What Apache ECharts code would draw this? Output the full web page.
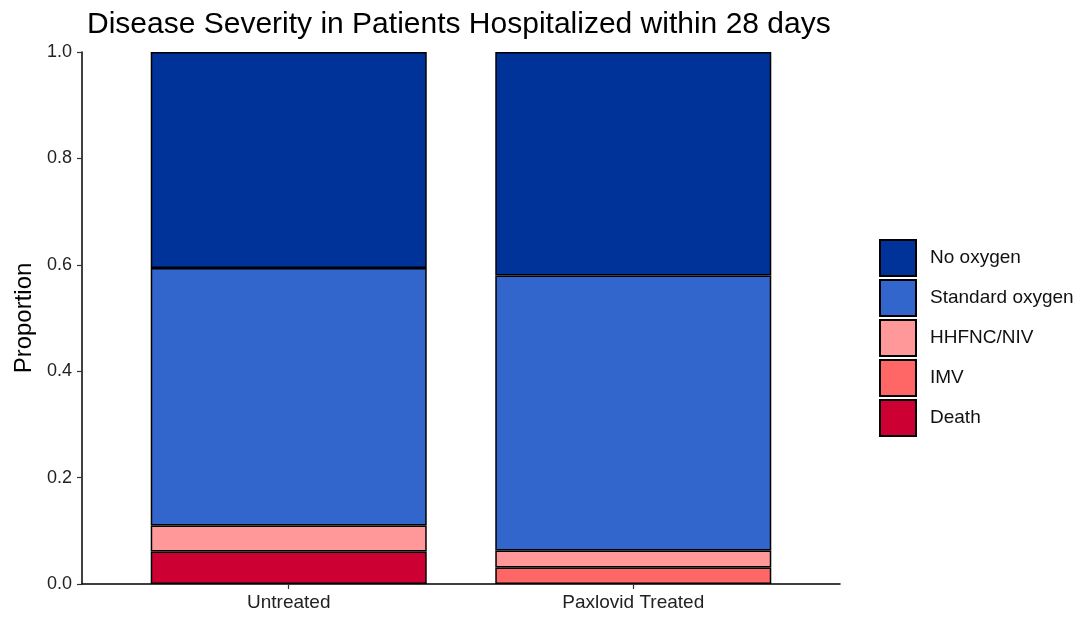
<!DOCTYPE html>
<html>
<head>
<meta charset="utf-8">
<script src="https://cdn.jsdelivr.net/npm/echarts@6/dist/echarts.min.js"></script>
<style>html,body{margin:0;padding:0;background:#fff;}#c{width:1083px;height:618px;}</style>
</head>
<body>
<div id="c"></div>
<script>
const categories = ['Untreated', 'Paxlovid Treated'];
const death = [0.061, 0.0];
const imv = [0.0, 0.031];
const hhfnc = [0.049, 0.032];
const standardOxygen = [0.484, 0.517];
const noOxygen = [0.406, 0.42];
const yTicks = [0, 0.2, 0.4, 0.6, 0.8, 1.0];

// ggplot-style discrete axis expansion: 12 slots, categories at slot 3 and 8
const slotCount = 12;
const categorySlots = [3, 8];
const axisCats = [];
for (let i = 0; i < slotCount; i++) {
  const k = categorySlots.indexOf(i);
  axisCats.push(k >= 0 ? categories[k] : '_pad' + i);
}
function pad(arr) {
  const out = new Array(slotCount).fill('-');
  categorySlots.forEach((s, k) => { out[s] = arr[k] === 0 ? '-' : arr[k]; });
  return out;
}
const isCat = v => categories.indexOf(v) >= 0;

const seriesDefs = [
  {name: 'Death', data: death, color: '#CC0033'},
  {name: 'IMV', data: imv, color: '#FF6666'},
  {name: 'HHFNC/NIV', data: hhfnc, color: '#FF9999'},
  {name: 'Standard oxygen', data: standardOxygen, color: '#3366CC'},
  {name: 'No oxygen', data: noOxygen, color: '#003399'}
];

const FONT = 'Liberation Sans, Arial, sans-serif';
const chart = echarts.init(document.getElementById('c'));
chart.setOption({
  animation: false,
  backgroundColor: '#fff',
  title: {
    text: 'Disease Severity in Patients Hospitalized within 28 days',
    left: 82, top: 5,
    textStyle: {fontFamily: FONT, fontSize: 30, fontWeight: 'normal', color: '#000'}
  },
  legend: {
    orient: 'vertical',
    left: 879, top: 239, padding: 0,
    itemWidth: 36, itemHeight: 36, itemGap: 2,
    icon: 'rect',
    data: ['No oxygen', 'Standard oxygen', 'HHFNC/NIV', 'IMV', 'Death'],
    textStyle: {fontFamily: FONT, fontSize: 19, color: '#111', padding: [2, 0, 0, 9]}
  },
  grid: {left: 82, right: 243, top: 52, bottom: 34},
  xAxis: {
    type: 'category', data: axisCats, boundaryGap: false,
    splitLine: {show: false},
    axisLine: {show: true, lineStyle: {color: '#000', width: 1.5}},
    axisTick: {show: true, interval: (i, v) => isCat(v), length: 5, lineStyle: {color: '#333', width: 1.2}},
    axisLabel: {
      interval: (i, v) => isCat(v),
      formatter: v => isCat(v) ? v : '',
      fontFamily: FONT, fontSize: 19, color: '#222', margin: 9
    }
  },
  yAxis: {
    type: 'value', min: 0, max: 1, interval: 0.2,
    name: 'Proportion', nameLocation: 'middle', nameGap: 45, nameRotate: 90,
    nameTextStyle: {fontFamily: FONT, fontSize: 24, color: '#000'},
    splitLine: {show: false},
    axisLine: {show: true, lineStyle: {color: '#000', width: 1.5}},
    axisTick: {show: true, length: 5, lineStyle: {color: '#333', width: 1.2}},
    axisLabel: {
      formatter: v => v.toFixed(1),
      fontFamily: FONT, fontSize: 18, color: '#222', margin: 10
    }
  },
  series: seriesDefs.map(s => ({
    name: s.name,
    type: 'bar',
    stack: 'total',
    barWidth: 276,
    data: pad(s.data),
    itemStyle: {color: s.color, borderColor: '#000', borderWidth: 1.5}
  }))
});
</script>
</body>
</html>
